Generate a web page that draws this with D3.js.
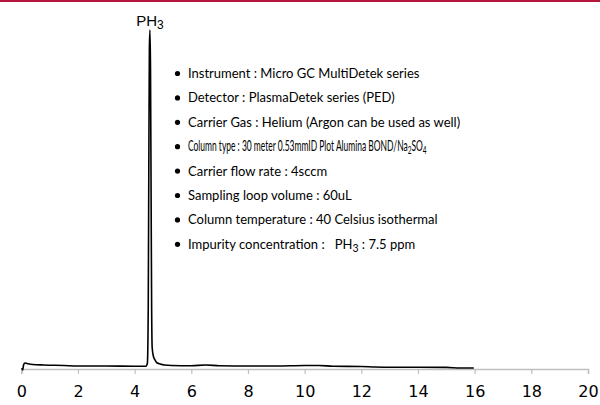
<!DOCTYPE html>
<html><head><meta charset="utf-8">
<script src="https://cdn.jsdelivr.net/npm/d3@7"></script>
<style>body{margin:0;background:#fff}svg{display:block}</style>
</head><body>
<svg id="c" width="600" height="405"></svg>
<script>
const xTicks = [0,2,4,6,8,10,12,14,16,18,20];
const times  = [0.02,0.05,0.08,0.12,0.2,0.4,0.8,1.5,2,3,4,4.4,4.45,4.48,4.5,4.52,4.54,4.56,4.58,4.6,4.62,4.66,4.72,4.8,4.9,5.05,5.3,6,6.5,7,8,9,10,10.5,11,12,12.5,13,14,15,15.5,15.97];
const signal = [0,-2,3,5,4.5,3.5,3,2.5,2,2,1.8,1.8,5,60,200,320,339,300,180,60,20,12,8,5,4,3,2.5,2.3,3,2.3,2,2,2.5,2.5,1.8,1.5,1,0.8,0.8,0.6,0,0];
const notes = [
  "Instrument : Micro GC MultiDetek series",
  "Detector : PlasmaDetek series (PED)",
  "Carrier Gas : Helium (Argon can be used as well)",
  "Column type : 30 meter 0.53mmID Plot Alumina BOND/Na|2|SO|4",
  "Carrier flow rate : 4sccm",
  "Sampling loop volume : 60uL",
  "Column temperature : 40 Celsius isothermal",
  "Impurity concentration :\u00a0\u00a0\u00a0PH|3| : 7.5 ppm"
];
const peakLabel = ["PH","3"];

const svg = d3.select("#c");
svg.append("rect").attr("x",0).attr("y",0).attr("width",600).attr("height",2).attr("fill","#b5173c");

const x = d3.scaleLinear().domain([0,20]).range([21.3,588]);
const y = d3.scaleLinear().domain([0,339]).range([368,30]);

const ax = svg.append("g").attr("transform","translate(0,369)")
  .call(d3.axisBottom(x).tickValues(xTicks).tickSize(5).tickPadding(12).tickFormat(d3.format("d")));
ax.select(".domain").attr("stroke","#bfbfbf").attr("stroke-width",1.5);
ax.selectAll(".tick line").attr("stroke","#bfbfbf").attr("stroke-width",1.2);
ax.selectAll(".tick text").attr("font-family","DejaVu Sans").attr("font-size",16).attr("fill","#000");

const line = d3.line().x((d,i)=>x(times[i])).y(d=>y(d)).curve(d3.curveMonotoneX);
svg.append("path").datum(signal).attr("d",line).attr("fill","none").attr("stroke","#000").attr("stroke-width",1.6);

const pl = svg.append("text").attr("x",x(4.54)).attr("y",26).attr("text-anchor","middle")
  .attr("font-family","Liberation Sans").attr("font-size",15).attr("fill","#000");
pl.append("tspan").text(peakLabel[0]);
pl.append("tspan").attr("font-size",12).attr("dy",3).text(peakLabel[1]);

const g = svg.append("g");
notes.forEach((n,i)=>{
  const yy = 78 + i*24.4;
  g.append("circle").attr("cx",177.5).attr("cy",yy-4.5).attr("r",2.6).attr("fill","#000");
  const t = g.append("text").attr("x",188).attr("y",yy).attr("font-family","Lato")
    .attr("font-size",i===3 ? 15.5 : 13).attr("fill","#000");
  const parts = n.split("|");
  parts.forEach((p,k)=>{
    const ts = t.append("tspan").text(p);
    if(k%2===1){ ts.attr("font-size",i===3 ? 12 : 10.5).attr("dy",3); }
    else if(k>0){ ts.attr("dy",-3); }
  });
  if(i===3){
    const w = t.node().getBBox().width;
    const s = 239 / w;
    t.attr("transform",`translate(188,0) scale(${s},1) translate(-188,0)`);
  }
});
</script>
</body></html>
